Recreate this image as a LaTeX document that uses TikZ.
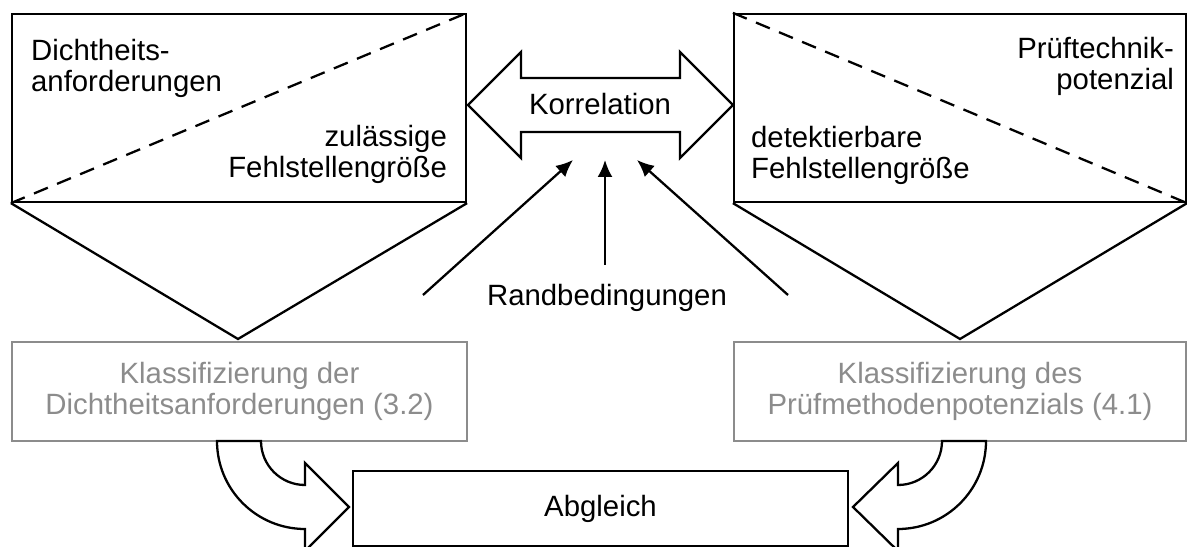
\documentclass[tikz,border=0pt]{standalone}
\usepackage{fontspec}
\setmainfont{Liberation Sans}
\usetikzlibrary{arrows.meta}
\definecolor{klassgrau}{HTML}{8C8C8C}

\begin{document}
\begin{tikzpicture}[x=0.02cm, y=-0.02cm, line width=1.3pt,
    font=\fontsize{16.7pt}{18.1pt}\selectfont,
    feld/.style={draw, rectangle, inner sep=0pt},
    klass/.style={draw=klassgrau, text=klassgrau, rectangle, align=center,
      inner sep=0pt, minimum height=1.98cm},
    pfeil/.style={-{Latex[length=0.34cm, width=0.3cm]}},
    blockpfeil/.style={draw, fill=white, line join=miter},
    strich/.style={dash pattern=on 0.3cm off 0.2cm}]
  \useasboundingbox (0,0) rectangle (1187,547);

  % obere Felder
  \node[feld, minimum width=9.08cm, minimum height=3.76cm] (dicht) at (239,108) {};
  \node[feld, minimum width=9.04cm, minimum height=3.76cm] (pruef) at (960,108) {};
  \draw[strich] (dicht.south west) -- (dicht.north east);
  \draw[strich] (pruef.north west) -- (pruef.south east);
  \node[anchor=base west, align=left, inner sep=0pt] (dichtanf) at (30,92) {Dichtheits-\\anforderungen};
  \node[anchor=base east, align=right, inner sep=0pt] (dichtfehl) at (448,178) {zulässige\\Fehlstellengröße};
  \node[anchor=base east, align=right, inner sep=0pt] (pruefpot) at (1175,90) {Prüftechnik-\\potenzial};
  \node[anchor=base west, align=left, inner sep=0pt] (prueffehl) at (750,179) {detektierbare\\Fehlstellengröße};

  % Trichter
  \coordinate (dichtspitze) at (238,339);
  \coordinate (pruefspitze) at (960,339);
  \draw (dicht.south west) -- (dichtspitze) -- (dicht.south east);
  \draw (pruef.south west) -- (pruefspitze) -- (pruef.south east);

  % Klassifizierung
  \node[klass, minimum width=9.1cm] (klassdicht) at (239.5,391.5) {Klassifizierung der\\Dichtheitsanforderungen (3.2)};
  \node[klass, minimum width=9.04cm] (klasspruef) at (960,391.5) {Klassifizierung des\\Prüfmethodenpotenzials (4.1)};

  % Korrelation
  \draw[blockpfeil] (468,105) -- (521,52) -- (521,78) -- (680,78) -- (680,52) -- (733,105)
    -- (680,158) -- (680,132) -- (521,132) -- (521,158) -- cycle;
  \node (korr) at (600,104) {Korrelation};

  % Randbedingungen
  \node (rand) at (607,298) {Randbedingungen};
  \coordinate (randL) at (423,295);
  \coordinate (randM) at (605,265);
  \coordinate (randR) at (788,295);
  \coordinate (zielL) at (573,160);
  \coordinate (zielM) at (605,160);
  \coordinate (zielR) at (637,160);
  \draw[pfeil] (randL) -- (zielL);
  \draw[pfeil] (randM) -- (zielM);
  \draw[pfeil] (randR) -- (zielR);

  % Abgleich
  \node[feld, minimum width=9.9cm, minimum height=1.5cm] (abgleich) at (600.5,508.5) {Abgleich};
  \draw[blockpfeil] (217,441) arc[start angle=180, end angle=90, radius=88]
    -- (305,551) -- (349,507) -- (305,463) -- (305,485)
    arc[start angle=90, end angle=180, radius=44] -- cycle;
  \draw[blockpfeil] (986,441) arc[start angle=0, end angle=90, radius=88]
    -- (898,551) -- (853,507) -- (898,463) -- (898,485)
    arc[start angle=90, end angle=0, radius=44] -- cycle;
\end{tikzpicture}
\end{document}
